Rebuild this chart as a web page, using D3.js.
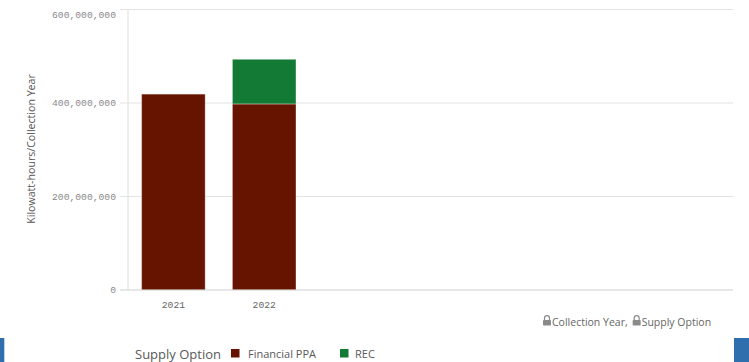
<!DOCTYPE html>
<html><head><meta charset="utf-8">
<script src="https://cdn.jsdelivr.net/npm/d3@7/dist/d3.min.js"></script>
<style>body{margin:0;background:#fff;}svg{display:block;}</style>
</head><body>
<svg id="c" width="749" height="362"></svg>
<script>
const years = ["2021", "2022"];
const seriesNames = ["Financial PPA", "REC"];
const financialPPA = [419000000, 398000000];
const rec = [0, 95500000];
const yTicks = [0, 200000000, 400000000, 600000000];
const colors = ["#661400", "#137a35"];

const svg = d3.select("#c");
const plotL = 128, plotR = 733, plotT = 9.5, plotB = 290;

const y = d3.scaleLinear().domain([0, 600000000]).range([plotB, plotT]);
const step = 90.8;
const x = d3.scaleBand().domain(years).range([plotL, plotL + step * years.length])
  .paddingInner(0.3).paddingOuter(0.15);

// gridlines
svg.append("g").selectAll("line").data(yTicks.filter(d => d > 0)).join("line")
  .attr("x1", 120).attr("x2", plotR).attr("y1", d => y(d)).attr("y2", d => y(d))
  .attr("stroke", "#e3e3e3").attr("stroke-width", 1.2);
// vertical axis line
svg.append("line").attr("x1", plotL).attr("x2", plotL).attr("y1", plotT).attr("y2", plotB)
  .attr("stroke", "#e3e3e3").attr("stroke-width", 1.2);

// y labels
const fmt = d3.format(",");
svg.append("g").selectAll("text").data(yTicks).join("text")
  .attr("x", 116).attr("y", d => Math.max(y(d), 15))
  .attr("dy", "0.35em").attr("text-anchor", "end")
  .attr("font-family", "Liberation Mono, DejaVu Sans Mono, monospace")
  .attr("font-size", 9.7).attr("fill", "#8a8a8a").text(d => fmt(d));

// stacked bars
const rows = years.map((yr, i) => ({year: yr, "Financial PPA": financialPPA[i], "REC": rec[i]}));
const stack = d3.stack().keys(seriesNames)(rows);
svg.append("g").selectAll("g").data(stack).join("g")
  .attr("fill", (d, i) => colors[i])
  .selectAll("rect").data(d => d.filter(p => p[1] - p[0] > 0)).join("rect")
  .attr("x", d => x(d.data.year)).attr("width", x.bandwidth())
  .attr("y", d => y(d[1])).attr("height", d => y(d[0]) - y(d[1]))
  .attr("stroke", "#ffffff").attr("stroke-opacity", 0.35).attr("stroke-width", 1);

// bottom axis line
svg.append("line").attr("x1", 120).attr("x2", plotR).attr("y1", plotB).attr("y2", plotB)
  .attr("stroke", "#cfcfcf").attr("stroke-width", 1.2);

// x labels
svg.append("g").selectAll("text").data(years).join("text")
  .attr("x", d => x(d) + x.bandwidth() / 2).attr("y", 305)
  .attr("dy", "0.35em").attr("text-anchor", "middle")
  .attr("font-family", "Liberation Mono, DejaVu Sans Mono, monospace")
  .attr("font-size", 9.7).attr("fill", "#666").text(d => d);

// y axis title
svg.append("text").attr("transform", "translate(35,149) rotate(-90)")
  .attr("text-anchor", "middle").attr("font-family", "Open Sans, sans-serif")
  .attr("font-size", 10.6).attr("fill", "#555").text("Kilowatt-hours/Collection Year");

// lock labels
function lock(g, cx, cy) {
  g.append("path").attr("d", `M${cx-2.5},${cy-1} v-1.8 a2.5,2.5 0 0 1 5,0 v1.8`)
    .attr("fill", "none").attr("stroke", "#8a8a8a").attr("stroke-width", 1.2);
  g.append("rect").attr("x", cx - 4).attr("y", cy - 1).attr("width", 8).attr("height", 5.5)
    .attr("rx", 0.8).attr("fill", "#8a8a8a");
}
const lk = svg.append("g");
lock(lk, 547, 321);
const t1 = lk.append("text").attr("x", 552).attr("y", 322).attr("dy", "0.35em")
  .attr("font-family", "Open Sans, sans-serif").attr("font-size", 10.5).attr("fill", "#666")
  .text("Collection Year,");
const w1 = t1.node().getComputedTextLength();
lock(lk, 552 + w1 + 9, 321);
lk.append("text").attr("x", 552 + w1 + 14).attr("y", 322).attr("dy", "0.35em")
  .attr("font-family", "Open Sans, sans-serif").attr("font-size", 10.5).attr("fill", "#666")
  .text("Supply Option");

// legend
svg.append("text").attr("x", 135).attr("y", 354).attr("dy", "0.35em")
  .attr("font-family", "Open Sans, sans-serif").attr("font-size", 13).attr("fill", "#595959")
  .text("Supply Option");
const legX = [231, 340];
const lg = svg.append("g").selectAll("g").data(seriesNames).join("g")
  .attr("transform", (d, i) => `translate(${legX[i]},0)`);
lg.append("rect").attr("x", 0).attr("y", 349).attr("width", 8.5).attr("height", 8.5)
  .attr("fill", (d, i) => colors[i]);
lg.append("text").attr("x", (d, i) => i === 0 ? 17 : 15).attr("y", 354.5).attr("dy", "0.35em")
  .attr("font-family", "Open Sans, sans-serif").attr("font-size", 11).attr("fill", "#595959")
  .text(d => d);

// blue edge bars
svg.append("rect").attr("x", 0).attr("y", 338).attr("width", 4.3).attr("height", 24).attr("fill", "#2f6fad");
svg.append("rect").attr("x", 734).attr("y", 338).attr("width", 15).attr("height", 24).attr("fill", "#2f6fad");
</script>
</body></html>
